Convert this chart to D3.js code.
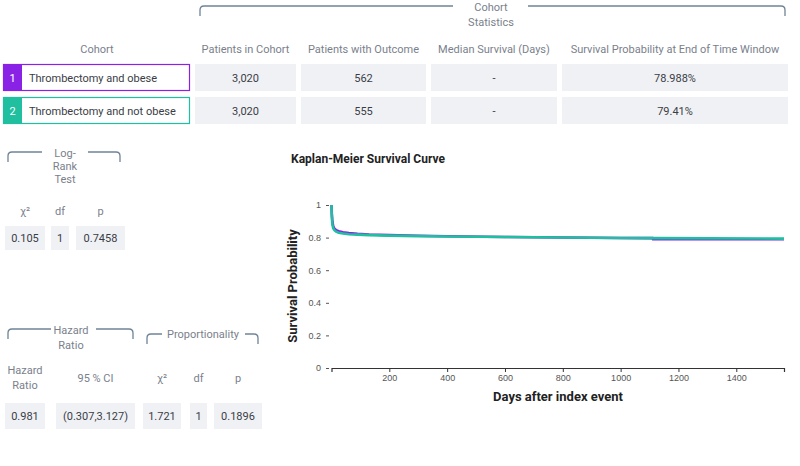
<!DOCTYPE html>
<html>
<head>
<meta charset="utf-8">
<script src="https://cdn.jsdelivr.net/npm/d3@7"></script>
<style>
  body { margin: 0; background: #fff; font-family: Roboto, "Noto Sans", sans-serif; }
  .hdr { fill: #7a7f8c; font-size: 11px; }
  .val { fill: #3a3d45; font-size: 11px; }
  .tick text { fill: #555; font-size: 9px; }
</style>
</head>
<body>
<div id="chart"></div>
<script>
// cohort table
const cohortNames = ["Thrombectomy and obese", "Thrombectomy and not obese"];
const cohortColors = ["#8a22e6", "#1fbf9f"];
const patientsInCohort = ["3,020", "3,020"];
const patientsWithOutcome = ["562", "555"];
const medianSurvival = ["-", "-"];
const survivalAtEnd = ["78.988%", "79.41%"];
const tableHeaders = ["Patients in Cohort", "Patients with Outcome", "Median Survival (Days)", "Survival Probability at End of Time Window"];

// log-rank test
const logRankHeaders = ["χ²", "df", "p"];
const logRankValues = ["0.105", "1", "0.7458"];

// hazard ratio + proportionality
const hazardHeaders = [["Hazard", "Ratio"], ["95 % CI"], ["χ²"], ["df"], ["p"]];
const hazardValues = ["0.981", "(0.307,3.127)", "1.721", "1", "0.1896"];

// Kaplan-Meier curves (days, survival probability)
const days1 = [0, 1, 3, 6, 10, 16, 25, 40, 60, 90, 130, 200, 300, 400, 600, 800, 1000, 1110, 1112, 1565];
const surv1 = [1, 0.95, 0.90, 0.87, 0.855, 0.846, 0.839, 0.833, 0.828, 0.823, 0.819, 0.815, 0.811, 0.808, 0.804, 0.801, 0.798, 0.797, 0.790, 0.790];
const days2 = [0, 1, 3, 6, 10, 16, 25, 40, 60, 90, 130, 200, 300, 400, 600, 800, 1000, 1110, 1565];
const surv2 = [1, 0.93, 0.88, 0.857, 0.845, 0.836, 0.830, 0.825, 0.821, 0.818, 0.815, 0.812, 0.809, 0.807, 0.804, 0.801, 0.798, 0.797, 0.794];
const xTicks = [200, 400, 600, 800, 1000, 1200, 1400];
const yTicks = [0, 0.2, 0.4, 0.6, 0.8, 1];

const svg = d3.select("#chart").append("svg")
  .attr("width", 800)
  .attr("height", 466);

// bracket with a gap for the label
function bracket(x0, x1, y, gap0, gap1) {
  const r = 4, h = 10;
  const p = d3.path();
  p.moveTo(x0, y + h);
  p.lineTo(x0, y + r);
  p.quadraticCurveTo(x0, y, x0 + r, y);
  p.lineTo(gap0, y);
  p.moveTo(gap1, y);
  p.lineTo(x1 - r, y);
  p.quadraticCurveTo(x1, y, x1, y + r);
  p.lineTo(x1, y + h);
  svg.append("path")
    .attr("d", p.toString())
    .attr("fill", "none")
    .attr("stroke", "#6f8497")
    .attr("stroke-width", 1.3);
}

function cell(x, y, w, h, text) {
  svg.append("rect").attr("x", x).attr("y", y).attr("width", w).attr("height", h).attr("fill", "#f0f1f5");
  svg.append("text").attr("class", "val").attr("x", x + w / 2).attr("y", y + h / 2 + 4)
    .attr("text-anchor", "middle").text(text);
}

function label(x, y, lines, lh) {
  const t = svg.append("text").attr("class", "hdr").attr("text-anchor", "middle");
  lines.forEach((l, i) => t.append("tspan").attr("x", x).attr("y", y + i * lh).text(l));
}

// ---- cohort statistics table ----
bracket(200, 785, 6, 453, 528);
label(491, 11, ["Cohort", "Statistics"], 15);
label(97, 53, ["Cohort"], 0);

const colX = [195, 301, 431, 562];
const colW = [101, 125, 126, 226];
tableHeaders.forEach((h, i) => label(colX[i] + colW[i] / 2, 53, [h], 0));

const rowY = [64, 97];
cohortNames.forEach((name, i) => {
  const y = rowY[i];
  svg.append("rect").attr("x", 3.5).attr("y", y + 0.5).attr("width", 186).attr("height", 26)
    .attr("fill", "#fff").attr("stroke", cohortColors[i]).attr("stroke-width", 1.2);
  svg.append("rect").attr("x", 3).attr("y", y).attr("width", 19).attr("height", 27).attr("fill", cohortColors[i]);
  svg.append("text").attr("x", 12.5).attr("y", y + 18).attr("text-anchor", "middle")
    .attr("fill", "#fff").attr("font-size", 11).text(i + 1);
  svg.append("text").attr("class", "val").attr("x", 29).attr("y", y + 18).attr("font-size", 11.5).text(name);
  const vals = [patientsInCohort[i], patientsWithOutcome[i], medianSurvival[i], survivalAtEnd[i]];
  vals.forEach((v, j) => cell(colX[j], y, colW[j], 27, v));
});

// ---- log-rank test ----
bracket(8, 120, 152, 42, 88);
label(65, 157, ["Log-", "Rank", "Test"], 13);
const lrX = [5, 51, 76];
const lrW = [40, 18, 49];
logRankHeaders.forEach((h, i) => label(lrX[i] + lrW[i] / 2, 215, [h], 0));
logRankValues.forEach((v, i) => cell(lrX[i], 226, lrW[i], 24, v));

// ---- hazard ratio + proportionality ----
bracket(8, 133, 329, 51, 96);
label(71, 334, ["Hazard", "Ratio"], 15);
bracket(147, 258, 334, 162, 245);
label(203, 338, ["Proportionality"], 0);

const hzX = [5, 56, 143, 190, 214];
const hzW = [40, 79, 38, 17, 48];
hazardHeaders.forEach((h, i) => {
  label(hzX[i] + hzW[i] / 2, h.length > 1 ? 374 : 382, h, 15);
});
hazardValues.forEach((v, i) => cell(hzX[i], 403, hzW[i], 26, v));

// ---- Kaplan-Meier chart ----
svg.append("text").attr("x", 291).attr("y", 163)
  .attr("font-size", 12).attr("font-weight", "bold").attr("fill", "#222")
  .text("Kaplan-Meier Survival Curve");

const xScale = d3.scaleLinear().domain([0, 1565]).range([331.5, 784]);
const yScale = d3.scaleLinear().domain([0, 1]).range([368, 205]);

const xAxis = svg.append("g")
  .attr("transform", "translate(0,368)")
  .call(d3.axisBottom(xScale).tickValues(xTicks).tickFormat(d3.format("d")).tickSize(4).tickSizeOuter(4));
xAxis.select(".domain").attr("stroke", "#333").attr("stroke-width", 1.2);
xAxis.selectAll(".tick line").attr("stroke", "#333");

const yAxis = svg.append("g")
  .attr("transform", "translate(329,0)")
  .call(d3.axisLeft(yScale).tickValues(yTicks).tickFormat(d3.format("~g")).tickSize(3).tickPadding(5));
yAxis.select(".domain").remove();
yAxis.selectAll(".tick line").attr("stroke", "#555");

svg.append("text").attr("x", 558).attr("y", 401).attr("text-anchor", "middle")
  .attr("font-size", 13).attr("font-weight", "bold").attr("fill", "#222")
  .text("Days after index event");
svg.append("text").attr("transform", "translate(297,286) rotate(-90)").attr("text-anchor", "middle")
  .attr("font-size", 13).attr("font-weight", "bold").attr("fill", "#222")
  .text("Survival Probability");

const line = d3.line()
  .x(d => xScale(d[0]))
  .y(d => yScale(d[1]))
  .curve(d3.curveLinear);

const series = [d3.zip(days1, surv1), d3.zip(days2, surv2)];
series.forEach((s, i) => {
  svg.append("path")
    .datum(s)
    .attr("fill", "none")
    .attr("stroke", cohortColors[i])
    .attr("stroke-width", 2.6)
    .attr("d", line);
});
</script>
</body>
</html>
